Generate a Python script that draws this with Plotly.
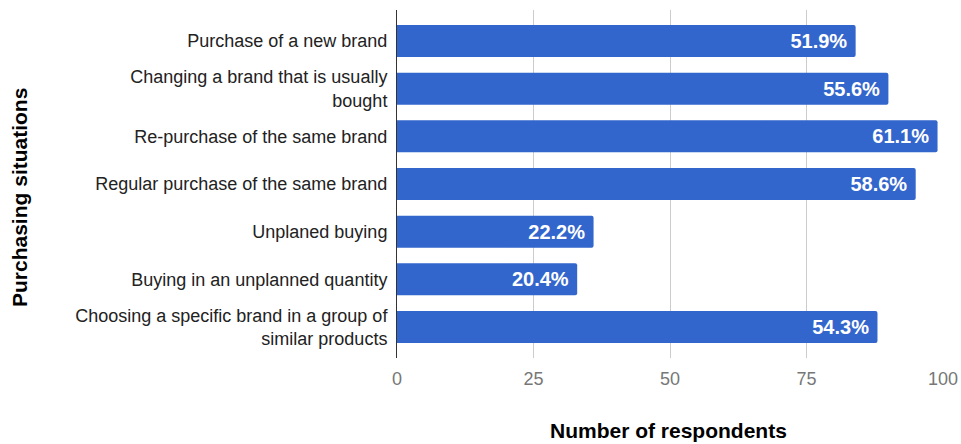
import plotly.graph_objects as go

categories = [
    "Purchase of a new brand",
    "Changing a brand that is usually<br>bought",
    "Re-purchase of the same brand",
    "Regular purchase of the same brand",
    "Unplaned buying",
    "Buying in an unplanned quantity",
    "Choosing a specific brand in a group of<br>similar products",
]
respondents = [84, 90, 99, 95, 36, 33, 88]
pct_labels = ["51.9%", "55.6%", "61.1%", "58.6%", "22.2%", "20.4%", "54.3%"]
x_ticks = [0, 25, 50, 75, 100]

FONT = "Liberation Sans, Arial, sans-serif"

fig = go.Figure(
    go.Bar(
        y=categories,
        x=respondents,
        orientation="h",
        text=pct_labels,
        texttemplate="%{text}&nbsp;",
        textposition="inside",
        insidetextanchor="end",
        textfont=dict(family=FONT, size=20, color="white", weight="bold"),
        marker=dict(color="#3366cc", cornerradius=2, line=dict(width=0)),
        width=0.67,
        hoverinfo="x+y",
    )
)

fig.update_layout(
    width=961,
    height=444,
    margin=dict(l=397, r=18, t=10, b=86),
    plot_bgcolor="white",
    paper_bgcolor="white",
    showlegend=False,
    font=dict(family=FONT, size=18, color="#222222"),
    xaxis=dict(
        range=[0, 100],
        tickvals=x_ticks,
        showgrid=True,
        gridcolor="#cccccc",
        gridwidth=1,
        zeroline=False,
        showline=False,
        tickfont=dict(family=FONT, size=18, color="#777777"),
        ticks="",
        ticklen=0,
        ticklabelstandoff=8,
        automargin=False,
    ),
    yaxis=dict(
        type="category",
        range=[6.65, -0.65],
        showgrid=False,
        zeroline=False,
        showline=True,
        linecolor="#333333",
        linewidth=1,
        ticks="",
        ticklabelstandoff=5,
        tickfont=dict(family=FONT, size=18, color="#222222"),
        automargin=False,
    ),
    annotations=[
        dict(
            text="<b>Number of respondents</b>",
            xref="paper", yref="paper",
            x=(668 - 397) / (961 - 397 - 18), y=-(430 - 358) / (444 - 10 - 86),
            xanchor="center", yanchor="middle",
            showarrow=False,
            font=dict(family=FONT, size=21, color="#000000"),
        ),
        dict(
            text="<b>Purchasing situations</b>",
            xref="paper", yref="paper",
            x=-(397 - 19) / (961 - 397 - 18), y=(358 - 198) / (444 - 10 - 86),
            xanchor="center", yanchor="middle",
            textangle=-90,
            showarrow=False,
            font=dict(family=FONT, size=21, color="#000000"),
        ),
    ],
)

fig.write_html("out.html")
